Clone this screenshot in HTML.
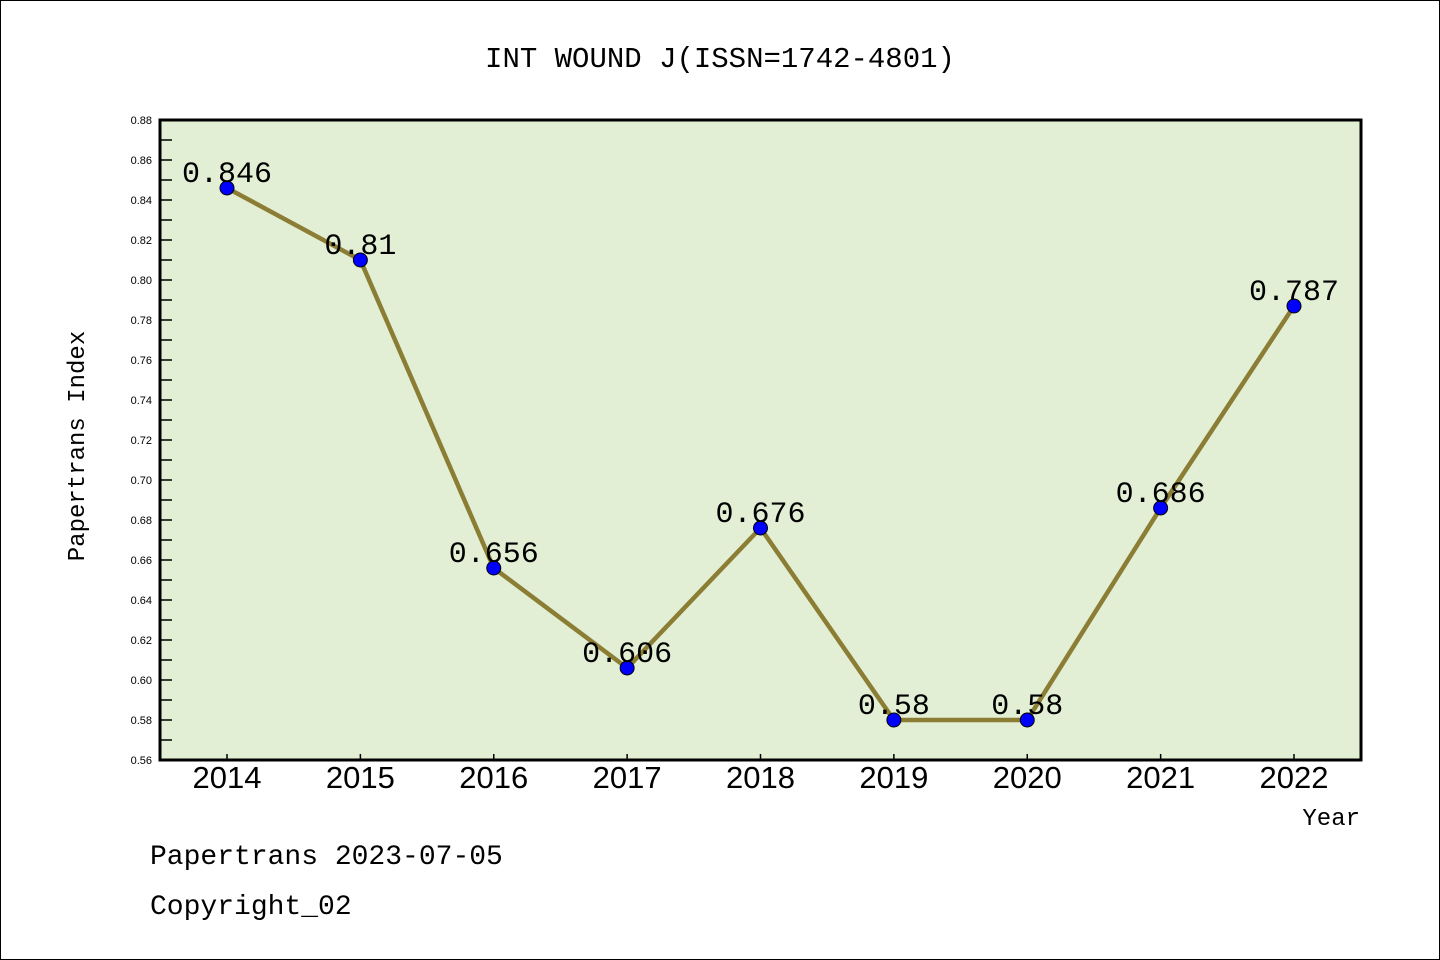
<!DOCTYPE html>
<html><head><meta charset="utf-8"><style>
html,body{margin:0;padding:0;background:#fff}
svg{display:block}
</style></head><body>
<svg id="chart" width="1440" height="960" xmlns="http://www.w3.org/2000/svg" font-family="Liberation Sans, sans-serif">
<rect x="0.5" y="0.5" width="1439" height="959" fill="#fff" stroke="#000"/>
<text x="720" y="67" font-size="29" text-anchor="middle" font-family="Liberation Mono, monospace">INT WOUND J(ISSN=1742-4801)</text>
<rect x="160" y="120" width="1201" height="640" fill="#e2efd5"/>
<g id="yaxis"></g>
<g id="xaxis"></g>
<g id="series"></g>
<rect x="160" y="120" width="1201" height="640" fill="none" stroke="#000" stroke-width="3"/>
<text transform="translate(84,446) rotate(-90)" font-size="24" text-anchor="middle" font-family="Liberation Mono, monospace">Papertrans Index</text>
<text x="1360" y="825" font-size="24" text-anchor="end" font-family="Liberation Mono, monospace">Year</text>
<text x="150" y="864" font-size="28" font-family="Liberation Mono, monospace">Papertrans 2023-07-05</text>
<text x="150" y="914" font-size="28" font-family="Liberation Mono, monospace">Copyright_02</text>
</svg>
<script>
const years = ["2014","2015","2016","2017","2018","2019","2020","2021","2022"];
const values = [0.846,0.81,0.656,0.606,0.676,0.58,0.58,0.686,0.787];
const labels = ["0.846","0.81","0.656","0.606","0.676","0.58","0.58","0.686","0.787"];
const yTicks = ["0.56","0.58","0.60","0.62","0.64","0.66","0.68","0.70","0.72","0.74","0.76","0.78","0.80","0.82","0.84","0.86","0.88"];
const NS="http://www.w3.org/2000/svg";
const yMin=0.56,yMax=0.88,yTop=120,yBot=760,xFirst=227,xLast=1294;
const ys=v=>yBot-(v-yMin)/(yMax-yMin)*(yBot-yTop);
const xs=i=>xFirst+i*(xLast-xFirst)/(years.length-1);
function mk(t,a,p){const e=document.createElementNS(NS,t);for(const k in a)e.setAttribute(k,a[k]);p.appendChild(e);return e;}
const ya=document.getElementById('yaxis'),xa=document.getElementById('xaxis'),sr=document.getElementById('series');
yTicks.forEach((t,i)=>{const y=ys(parseFloat(t));
 const l=mk('line',{x1:160,x2:172,y1:y,y2:y,stroke:'#000','stroke-width':1.5},ya);
 
 
 const tx=mk('text',{x:152,y:y+4,'font-size':11,'text-anchor':'end'},ya);tx.textContent=t;
 
 
 if(i<yTicks.length-1){const ym=ys(parseFloat(t)+0.01);
  const m=mk('line',{x1:160,x2:172,y1:ym,y2:ym,stroke:'#000','stroke-width':1.5},ya);
  
  }
});
years.forEach((yr,i)=>{const x=xs(i);
 const l=mk('line',{x1:x,x2:x,y1:yBot-6,y2:yBot,stroke:'#000','stroke-width':1.5},xa);
 
 
 const t=mk('text',{x:x,y:788,'font-size':31,'text-anchor':'middle'},xa);t.textContent=yr;
 
 
});
const pl=mk('polyline',{points:values.map((v,i)=>xs(i)+','+ys(v)).join(' '),fill:'none',stroke:'#8b7d34','stroke-width':4.5},sr);


values.forEach((v,i)=>{
 const c=mk('circle',{cx:xs(i),cy:ys(v),r:7,fill:'#0000ff',stroke:'#000','stroke-width':1},sr);
 
 
 const t=mk('text',{x:xs(i),y:ys(v)-6,'font-size':30,'text-anchor':'middle','font-family':'Liberation Mono, monospace'},sr);t.textContent=labels[i];
 
 
});
</script>
</body></html>
